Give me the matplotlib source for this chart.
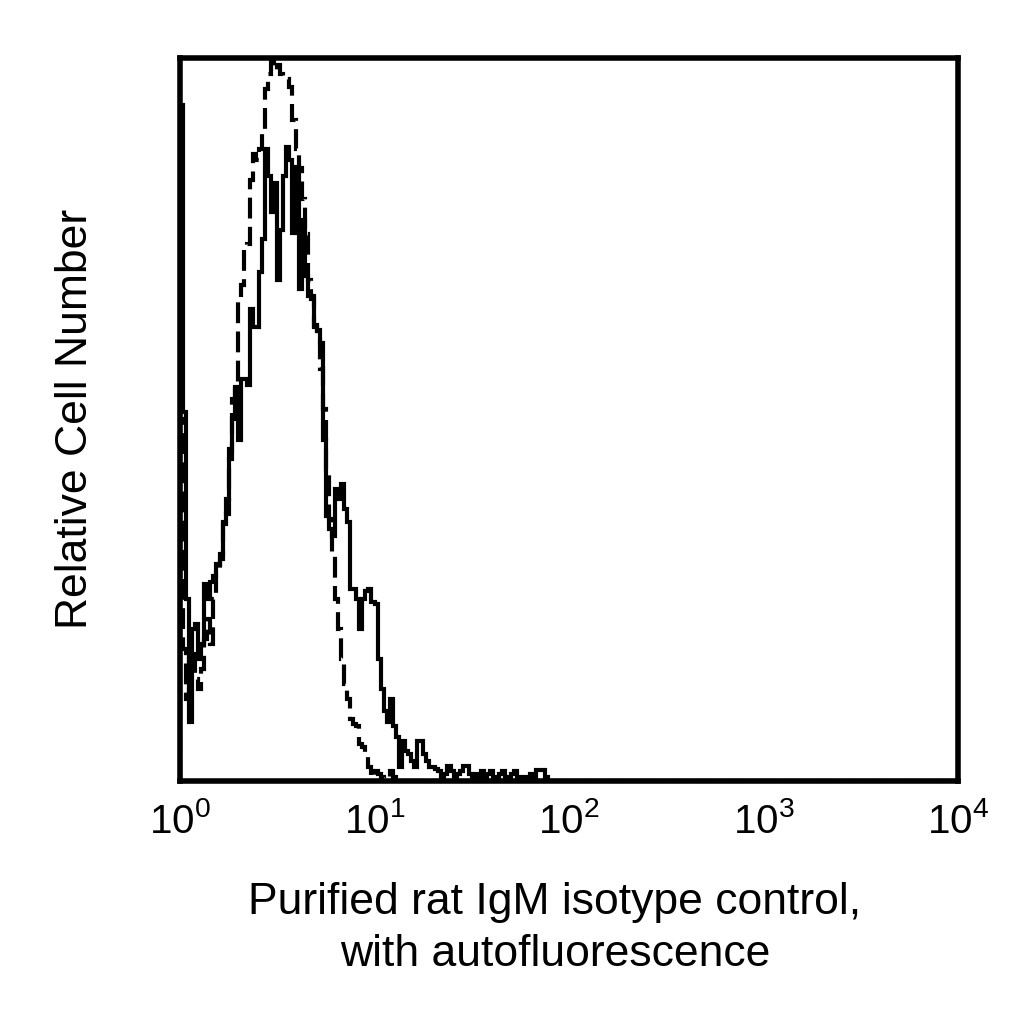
import numpy as np
import matplotlib
matplotlib.use("Agg")
import matplotlib.pyplot as plt

plt.rcParams['font.family'] = ['Liberation Sans', 'DejaVu Sans']
plt.rcParams['mathtext.fontset'] = 'custom'
plt.rcParams['mathtext.rm'] = 'Liberation Sans'
plt.rcParams['mathtext.it'] = 'Liberation Sans'

# 64 channels per decade, 4 decades (only the non-empty channels are listed)
channels_per_decade = 64
n_decades = 4

# stained sample (solid), relative cell number per channel
solid_counts = [
    93.5, 51.0, 25.1, 8.1, 21.0, 21.7, 16.9, 18.9, 27.2, 25.1,
    27.5, 28.3, 30.0, 30.7, 35.8, 36.9, 45.9, 50.0, 54.4, 47.2,
    55.5, 55.5, 54.8, 65.2, 62.8, 62.8, 70.4, 74.9, 87.3, 83.6,
    78.6, 82.7, 69.3, 76.2, 83.6, 87.7, 85.9, 75.8, 84.9, 68.0,
    77.6, 69.8, 67.0, 67.0, 62.8, 62.4, 60.6, 47.2, 36.6, 34.8,
    33.8, 40.3, 39.0, 41.0, 37.6, 35.8, 26.5, 26.5, 25.1, 21.0,
    25.1, 26.2, 26.5, 24.7, 24.4, 16.9, 12.7, 9.7, 8.1, 11.3,
    7.6, 6.1, 1.9, 5.5, 4.1, 3.7, 2.8, 1.9, 5.5, 5.5,
    3.7, 2.8, 1.9, 1.9, 1.7, 1.4, 0.6, 1.0, 2.1, 1.4,
    0.6, 1.0, 1.4, 2.1, 2.1, 1.0, 0.6, 1.0, 0.6, 1.4,
    0.6, 1.0, 1.4, 0.6, 0.6, 1.0, 1.4, 0.6, 0.6, 1.0,
    1.4, 0.6, 0.6, 0.6, 0.6, 1.0, 0.6, 1.5, 1.5, 1.5,
    0.6,
]

# autofluorescence control (dashed)
dashed_counts = [
    50.0, 18.2, 11.3, 16.9, 17.5, 14.1, 12.7, 15.5, 19.6, 22.4,
    18.9, 25.1, 29.3, 31.4, 35.5, 39.0, 44.5, 52.8, 54.8, 66.6,
    68.6, 73.5, 74.2, 83.1, 86.6, 85.9, 87.3, 89.4, 95.6, 97.7,
    99.4, 98.3, 99.0, 97.7, 97.2, 97.0, 95.9, 91.4, 87.3, 84.8,
    80.4, 75.6, 69.3, 66.6, 63.1, 61.0, 56.9, 51.4, 43.1, 36.2,
    31.4, 25.1, 21.0, 16.9, 13.4, 11.3, 8.6, 7.9, 7.6, 5.1,
    4.7, 3.7, 1.9, 0.6, 1.4, 1.0, 0.6, 0.3, 0.6, 1.4,
    0.6,
]

tick_values = [1, 10, 100, 1000, 10000]
tick_labels = [r'$10^{0}$', r'$10^{1}$', r'$10^{2}$', r'$10^{3}$', r'$10^{4}$']

n_channels = channels_per_decade * n_decades
edges = np.logspace(0, n_decades, n_channels + 1)

def full_hist(counts):
    h = np.zeros(n_channels)
    h[:len(counts)] = counts
    return h

fig = plt.figure(figsize=(10.24, 10.24), dpi=100)
ax = fig.add_axes([0.1758, 0.2373, 0.7598, 0.7065])

ax.stairs(full_hist(dashed_counts), edges, color='black', linewidth=3.0,
          linestyle=(0, (5, 2)))
ax.stairs(full_hist(solid_counts), edges, color='black', linewidth=3.0)

ax.set_xscale('log')
ax.set_xlim(1, 10000)
ax.set_ylim(0, 100)
ax.set_xticks(tick_values)
ax.set_xticklabels(tick_labels)
ax.xaxis.set_minor_locator(matplotlib.ticker.NullLocator())
ax.set_yticks([])
ax.tick_params(axis='x', length=0, pad=15, labelsize=29)

for s in ax.spines.values():
    s.set_linewidth(4)

ax.set_xlabel('Purified rat IgM isotype control,\nwith autofluorescence',
              fontsize=32, linespacing=1.35)
ax.xaxis.set_label_coords(0.482, -0.14)
ax.set_ylabel('Relative Cell Number', fontsize=32)
ax.yaxis.set_label_coords(-0.108, 0.5)

fig.savefig('out.png', dpi=100)
